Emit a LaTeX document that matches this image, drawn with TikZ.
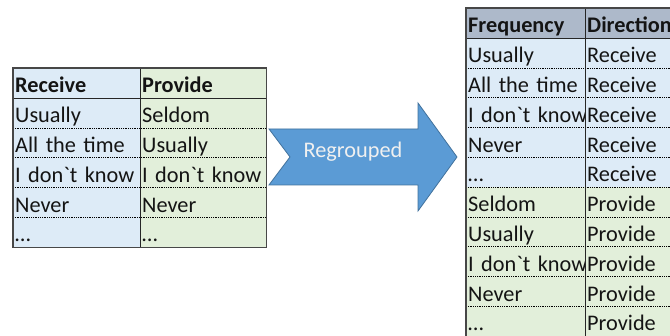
\documentclass[tikz,border=0pt]{standalone}
\usepackage{fontspec}
\setmainfont{Carlito}
\definecolor{recv}{HTML}{DDEBF7}
\definecolor{prov}{HTML}{E2EFDA}
\definecolor{headgray}{HTML}{ADB9CA}
\definecolor{arrowfill}{HTML}{5B9BD5}
\definecolor{arrowedge}{HTML}{41719C}
\definecolor{gridline}{HTML}{262626}
\definecolor{txt}{HTML}{141414}
\newcommand{\dk}{\mbox{I don\textasciigrave t know}}
\begin{document}
\begin{tikzpicture}[x=1pt,y=-1pt,
  cell/.style={rectangle, anchor=north west, inner xsep=2pt, inner ysep=0pt,
    minimum height=29.8pt, text height=24.8pt, text depth=5pt, align=left,
    font=\fontsize{22.3}{24}\selectfont, text=txt},
  headcell/.style={cell, font=\fontsize{22.3}{24}\selectfont\bfseries},
  colA/.style={text width=123pt, minimum width=127pt},
  colB/.style={text width=122pt, minimum width=126pt},
  colF/.style={text width=115pt, minimum width=119pt},
  colD/.style={text width=91pt, minimum width=95pt},
  solidrule/.style={draw=gridline, line width=1.3pt},
  outerrule/.style={draw=gridline!85, line width=1.1pt},
  dotrule/.style={draw=black, line width=0.9pt, dash pattern=on 0.9pt off 0.9pt},
  bigarrow/.style={fill=arrowfill, draw=arrowedge, line width=0.8pt, line join=miter}
]
\path[use as bounding box] (0,0) rectangle (670,336);
\clip (0,0) rectangle (670,336);

% ---- source table: Receive | Provide ----
\node[headcell, colA, fill=recv] (lr0) at (13,68) {Receive};
\node[headcell, colB, fill=prov] (lp0) at (140,68) {Provide};
\foreach \a/\b [count=\i] in {Usually/Seldom, All the time/Usually, \dk/\dk, Never/Never, …/…} {
  \node[cell, colA, fill=recv] (lr\i) at (13,{68+29.8*\i}) {\a};
  \node[cell, colB, fill=prov] (lp\i) at (140,{68+29.8*\i}) {\b};
}
\foreach \i in {1,...,4}
  \draw[dotrule] (lr\i.south west) -- (lp\i.south east);
\draw[solidrule] (lr0.south west) -- (lp0.south east);
\draw[solidrule] (lr0.north east) -- (lr5.south east);
\draw[outerrule] (lr0.north west) rectangle (lp5.south east);

% ---- arrow ----
\draw[bigarrow] (269,129) -- (418,129) -- (418,103) -- (457,157) -- (418,211)
  -- (418,185) -- (269,185) -- (290,157) -- cycle;
\node[anchor=base, inner sep=0pt, text=white!94!black,
  font=\fontsize{22.3}{24}\selectfont] (lbl) at (353,158) {Regrouped};

% ---- regrouped table: Frequency | Direction ----
\node[headcell, colF, fill=headgray] (rf0) at (466,8) {Frequency};
\node[headcell, colD, fill=headgray] (rd0) at (585,8) {Direction};
\foreach \a [count=\i] in {Usually, All the time, \dk, Never, …} {
  \node[cell, colF, fill=recv] (rf\i) at (466,{8+29.8*\i}) {\a};
  \node[cell, colD, fill=recv] (rd\i) at (585,{8+29.8*\i}) {Receive};
}
\foreach \a [count=\j] in {Seldom, Usually, \dk, Never, …} {
  \pgfmathtruncatemacro{\i}{\j+5}
  \node[cell, colF, fill=prov] (rf\i) at (466,{8+29.8*\i}) {\a};
  \node[cell, colD, fill=prov] (rd\i) at (585,{8+29.8*\i}) {Provide};
}
\foreach \i in {1,...,9}
  \draw[dotrule] (rf\i.south west) -- (rd\i.south east);
\draw[solidrule] (rf0.south west) -- (rd0.south east);
\draw[solidrule] (rf0.north east) -- (rf10.south east);
\draw[outerrule] (rf10.south west) -- (rf0.north west) -- (rd0.north east);
\end{tikzpicture}
\end{document}
